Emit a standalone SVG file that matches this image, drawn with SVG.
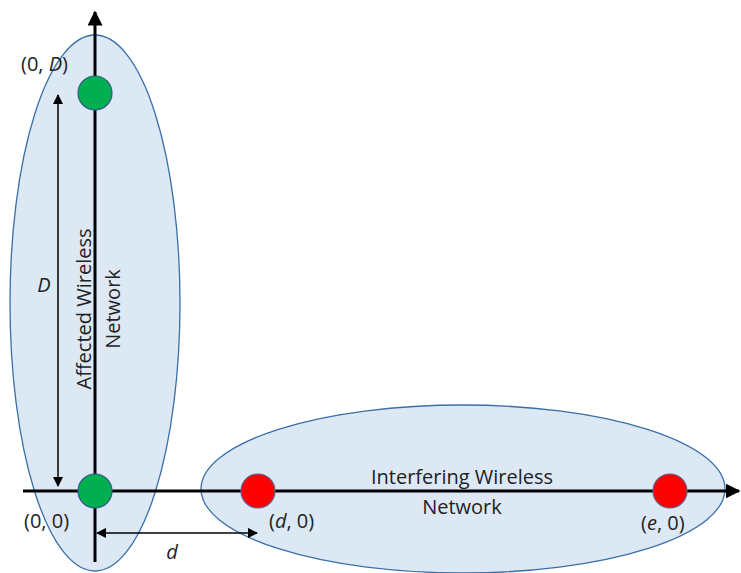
<svg xmlns="http://www.w3.org/2000/svg" width="741" height="573" viewBox="0 0 741 573">
<style>
.net{fill:#dde8f5;stroke:#3a6fa8;stroke-width:1.3}
.axis{stroke:#000;stroke-width:3;fill:none}
.dim{stroke:#000;stroke-width:1.5;fill:none}
.green{fill:#00b050;stroke:#2e5c8a;stroke-width:1.2}
.red{fill:#ff0000;stroke:#6b5a8a;stroke-width:1.2}
text{font-family:"Open Sans","Liberation Sans",sans-serif;font-size:20px;fill:#222}
.it{font-style:italic}
</style>
<defs>
<marker id="ah" viewBox="0 0 10 10" refX="9" refY="5" markerWidth="5" markerHeight="5" orient="auto-start-reverse" markerUnits="strokeWidth"><path d="M0,0L10,5L0,10z" fill="#000"/></marker>
<marker id="sh" viewBox="0 0 10 10" refX="9" refY="5" markerWidth="7" markerHeight="7" orient="auto-start-reverse" markerUnits="strokeWidth"><path d="M0,0L10,5L0,10z" fill="#000"/></marker>
</defs>
<g id="affected-network">
<ellipse class="net" cx="95" cy="303" rx="85" ry="268"/>
</g>
<g id="interfering-network">
<ellipse class="net" cx="463" cy="489" rx="262" ry="84"/>
</g>
<g id="connectors">
<line class="axis" x1="95" y1="562" x2="95" y2="12" marker-end="url(#ah)"/>
<line class="axis" x1="23" y1="491" x2="739" y2="491" marker-end="url(#ah)"/>
<line class="dim" x1="58" y1="486" x2="58" y2="95" marker-start="url(#sh)" marker-end="url(#sh)"/>
<line class="dim" x1="97" y1="533" x2="257" y2="533" marker-start="url(#sh)" marker-end="url(#sh)"/>
</g>
<g id="node-0D">
<circle class="green" cx="95" cy="93" r="17"/>
<text x="21" y="71">(0, <tspan class="it">D</tspan>)</text>
</g>
<g id="node-00">
<circle class="green" cx="95" cy="491" r="17"/>
<text x="24" y="528">(0, 0)</text>
</g>
<g id="node-d0">
<circle class="red" cx="258" cy="491" r="17"/>
<text x="269" y="528">(<tspan class="it">d</tspan>, 0)</text>
</g>
<g id="node-e0">
<circle class="red" cx="670" cy="491" r="17"/>
<text x="641" y="530">(<tspan class="it">e</tspan>, 0)</text>
</g>
<g id="labels">
<text class="it" x="44" y="292" text-anchor="middle">D</text>
<text class="it" x="172" y="559" text-anchor="middle">d</text>
<text transform="translate(91,309) rotate(-90)" text-anchor="middle">Affected Wireless</text>
<text transform="translate(120,309) rotate(-90)" text-anchor="middle">Network</text>
<text x="462" y="484" text-anchor="middle">Interfering Wireless</text>
<text x="462" y="514" text-anchor="middle">Network</text>
</g>
</svg>
